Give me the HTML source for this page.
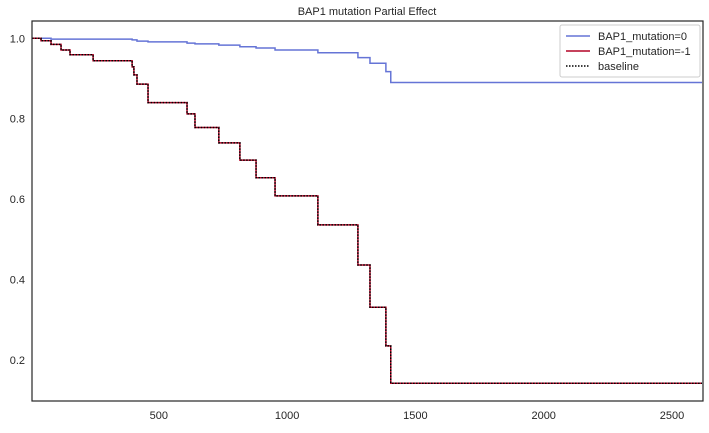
<!DOCTYPE html>
<html><head><meta charset="utf-8"><style>
body{margin:0;background:#fff;font-family:"Liberation Sans",sans-serif;}
svg text{font-family:"Liberation Sans",sans-serif;fill:#262626;}
</style></head><body>
<svg id="chart" width="709" height="428" xmlns="http://www.w3.org/2000/svg">
<text x="367" y="15" font-size="11" text-anchor="middle">BAP1 mutation Partial Effect</text>
<g id="ticks"></g>
<g id="lines"></g>
<rect x="32" y="21" width="671" height="380" fill="none" stroke="#262626" stroke-width="1.2"/>
<g>
<rect x="560" y="25" width="140" height="52" fill="#fff" stroke="#ccc" rx="2"/>
<line x1="566" y1="36" x2="590" y2="36" stroke="#6574d6" stroke-width="1.5"/>
<text x="598" y="40" font-size="11">BAP1_mutation=0</text>
<line x1="566" y1="51" x2="590" y2="51" stroke="#b40426" stroke-width="1.5"/>
<text x="598" y="55" font-size="11">BAP1_mutation=-1</text>
<line x1="566" y1="66" x2="590" y2="66" stroke="#000" stroke-width="1.5" stroke-dasharray="1.5,1.5"/>
<text x="598" y="70" font-size="11">baseline</text>
</g>
</svg>
<script>
const stepTimes=[0,41,80,119,154,244,396,403,415,458,610,641,734,816,879,953,1120,1276,1323,1385,1404,2617];
const baselineVals=[1.0,0.994,0.985,0.971,0.959,0.944,0.929,0.909,0.886,0.840,0.812,0.778,0.740,0.697,0.653,0.608,0.536,0.436,0.331,0.235,0.142,0.142];
const mut0Vals=[1.0,1.0,0.998,0.998,0.998,0.998,0.996,0.996,0.993,0.991,0.988,0.986,0.983,0.979,0.976,0.971,0.964,0.952,0.938,0.917,0.890,0.890];
const xTicks=[500,1000,1500,2000,2500];
const yTicks=[0.2,0.4,0.6,0.8,1.0];
const X=t=>30.5+t*0.2566;
const Y=v=>38.3+(1-v)*402;
const ns="http://www.w3.org/2000/svg";
const tk=document.getElementById('ticks');
xTicks.forEach(t=>{const e=document.createElementNS(ns,'text');


e.setAttribute('x',X(t));e.setAttribute('y',419);e.setAttribute('font-size','11');e.setAttribute('text-anchor','middle');e.textContent=t;tk.appendChild(e);});
yTicks.forEach(v=>{const e=document.createElementNS(ns,'text');


e.setAttribute('x',25);e.setAttribute('y',Y(v)+4);e.setAttribute('font-size','11');e.setAttribute('text-anchor','end');e.textContent=v.toFixed(1);tk.appendChild(e);});
function stepPath(vals){let d='M'+Math.max(32,X(stepTimes[0]))+','+Y(vals[0]);
for(let i=1;i<stepTimes.length;i++){d+=' H'+Math.min(703,X(stepTimes[i]))+' V'+Y(vals[i]);}return d;}
const lg=document.getElementById('lines');
function add(vals,color,name,dash){const p=document.createElementNS(ns,'path');


p.setAttribute('d',stepPath(vals));p.setAttribute('fill','none');p.setAttribute('stroke',color);p.setAttribute('stroke-width','1.5');if(dash)p.setAttribute('stroke-dasharray',dash);lg.appendChild(p);}
add(mut0Vals,'#6574d6','line-bap1-mutation-0');
add(baselineVals,'#b40426','line-bap1-mutation-neg1');
add(baselineVals,'#000','line-baseline','1.5,1.5');
</script>
</body></html>
